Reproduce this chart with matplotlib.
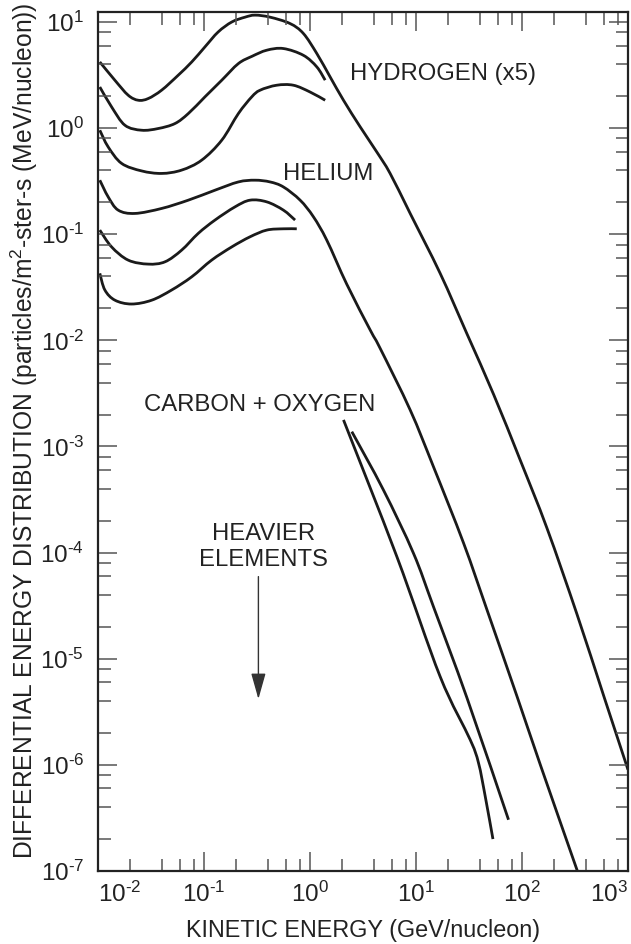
import numpy as np
import matplotlib
matplotlib.use("Agg")
import matplotlib.pyplot as plt
from matplotlib.path import Path
from matplotlib.patches import PathPatch

plt.rcParams['font.family'] = ['Liberation Sans', 'DejaVu Sans']
plt.rcParams['mathtext.fontset'] = 'custom'
plt.rcParams['mathtext.rm'] = 'Liberation Sans'
plt.rcParams['mathtext.it'] = 'Liberation Sans:italic'
plt.rcParams['mathtext.bf'] = 'Liberation Sans:bold'

# ---- data (kinetic energy GeV/nucleon, differential flux) ----
h1_E = [0.0104, 0.01445, 0.01928, 0.0240, 0.0298, 0.0399, 0.0571, 0.0766, 0.102, 0.136,
        0.183, 0.244, 0.303, 0.420, 0.649, 0.867, 1.16, 1.55, 2.07, 2.97, 4.28, 5.70,
        8.81, 16.9, 30.3, 54.0, 96.4, 172, 330, 590, 1000]
h1_F = [4.20, 2.82, 2.04, 1.83, 1.90, 2.28, 3.15, 4.20, 5.82, 8.05,
        10.0, 11.1, 11.6, 11.1, 9.66, 7.78, 5.04, 3.03, 1.83, 1.03, 0.593, 0.374,
        0.157, 0.0428, 0.01148, 3.09e-3, 7.41e-4, 1.70e-4, 2.63e-5, 4.47e-6, 9.0e-7]

h2_E = [0.0104, 0.01343, 0.01795, 0.0258, 0.0370, 0.0532, 0.0711, 0.102, 0.147, 0.211,
        0.284, 0.391, 0.561, 0.867, 1.16, 1.39]
h2_F = [2.44, 1.585, 1.064, 0.955, 0.991, 1.104, 1.371, 1.968, 2.825, 4.055,
        4.75, 5.42, 5.62, 4.85, 3.77, 2.83]

h3_E = [0.0104, 0.01247, 0.0167, 0.0258, 0.0399, 0.0615, 0.0951, 0.147, 0.211, 0.282,
        0.338, 0.485, 0.697, 1.0, 1.39]
h3_F = [0.955, 0.665, 0.465, 0.395, 0.374, 0.402, 0.499, 0.769, 1.371, 1.968,
        2.275, 2.535, 2.535, 2.19, 1.83]

he1_E = [0.0104, 0.01247, 0.0155, 0.0223, 0.0399, 0.0711, 0.127, 0.211, 0.303, 0.420,
         0.561, 0.807, 1.077, 1.44, 2.22, 3.70, 4.59, 8.81, 14.6, 28.1, 46.8, 89.8,
         149, 333]
he1_F = [0.323, 0.225, 0.1687, 0.157, 0.175, 0.2094, 0.260, 0.311, 0.323, 0.311,
         0.279, 0.2094, 0.146, 0.0879, 0.0339, 0.0125, 8.41e-3, 2.21e-3, 6.46e-4, 1.23e-4,
         2.88e-5, 4.41e-6, 1.0e-6, 1.0e-7]

he2_E = [0.0104, 0.01343, 0.01928, 0.0298, 0.0429, 0.0615, 0.0883, 0.127, 0.196, 0.272,
         0.391, 0.561, 0.723]
he2_F = [0.1094, 0.0760, 0.0570, 0.0523, 0.0550, 0.0708, 0.1019, 0.136, 0.181, 0.2094,
         0.2018, 0.1687, 0.136]

he3_E = [0.0104, 0.01161, 0.01445, 0.0207, 0.0321, 0.0495, 0.0766, 0.118, 0.183, 0.272,
         0.391, 0.561, 0.750]
he3_F = [0.0428, 0.0298, 0.0239, 0.0220, 0.0239, 0.0298, 0.0397, 0.0570, 0.0760, 0.0946,
         0.1094, 0.1125, 0.1125]

co1_E = [2.07, 6.60, 16.9, 32.5, 38.9, 45.0, 53.2]
co1_F = [1.78e-3, 9.16e-5, 6.79e-6, 1.72e-6, 1.04e-6, 5.04e-7, 2.00e-7]

co2_E = [2.48, 4.93, 9.46, 14.6, 30.3, 74.6]
co2_F = [1.38e-3, 3.89e-4, 9.87e-5, 3.10e-5, 4.26e-6, 3.04e-7]

x_ticks = [1e-2, 1e-1, 1e0, 1e1, 1e2, 1e3]
x_exps = ['-2', '-1', '0', '1', '2', '3']
y_ticks = [1e-7, 1e-6, 1e-5, 1e-4, 1e-3, 1e-2, 1e-1, 1e0, 1e1]
y_exps = ['-7', '-6', '-5', '-4', '-3', '-2', '-1', '0', '1']


def tick_label(e):
    if e.startswith('-'):
        return r'$\mathregular{10^{\text{-}' + e[1:] + r'}}$'
    return r'$\mathregular{10^{' + e + r'}}$'


def smooth_path(E, F):
    """Smooth (Catmull-Rom) path through the read points, in log-log space."""
    P = np.column_stack([np.log10(E), np.log10(F)])
    n = len(P)
    verts = [P[0]]
    codes = [Path.MOVETO]
    for i in range(n - 1):
        p0 = P[i - 1] if i > 0 else P[i]
        p1 = P[i]
        p2 = P[i + 1]
        p3 = P[i + 2] if i + 2 < n else P[i + 1]
        c1 = p1 + (p2 - p0) / 6.0
        c2 = p2 - (p3 - p1) / 6.0
        verts += [c1, c2, p2]
        codes += [Path.CURVE4] * 3
    return Path(10.0 ** np.array(verts), codes)


# ---- figure ----
fig = plt.figure(figsize=(6.31, 9.44), dpi=100)
ax = fig.add_axes([98/631, 1 - 871/944, 530/631, 859/944])
ax.set_xscale('log')
ax.set_yscale('log')
ax.set_xlim(1e-2, 1e3)
ax.set_ylim(1e-7, 10**1.094)

lw = 2.0
for E, F in [(h1_E, h1_F), (h2_E, h2_F), (h3_E, h3_F), (he1_E, he1_F), (he2_E, he2_F),
             (he3_E, he3_F), (co1_E, co1_F), (co2_E, co2_F)]:
    ax.add_patch(PathPatch(smooth_path(E, F), fill=False, edgecolor='#1a1a1a', lw=lw,
                           joinstyle='round', capstyle='butt', transform=ax.transData))

# ticks
ax.set_xticks(x_ticks)
ax.set_yticks(y_ticks)
ax.set_xticklabels([tick_label(e) for e in x_exps])
ax.set_yticklabels([tick_label(e) for e in y_exps])
minor_mult = [2, 4, 6, 8]
ax.set_xticks([m * 10.0**k for k in range(-2, 3) for m in minor_mult], minor=True)
ax.set_yticks([m * 10.0**k for k in range(-7, 1) for m in minor_mult], minor=True)
ax.xaxis.set_minor_formatter(plt.NullFormatter())
ax.yaxis.set_minor_formatter(plt.NullFormatter())
ax.tick_params(which='both', direction='in', top=True, right=True, color='#555555')
ax.tick_params(which='major', length=14, width=1.1, labelsize=17.5, pad=8,
               labelcolor='#222222')
ax.tick_params(which='minor', length=9, width=1.1)
ax.tick_params(axis='y', which='major', pad=10)
lbls = ax.get_xticklabels()
lbls[0].set_horizontalalignment('left')
lbls[-1].set_horizontalalignment('right')
for sp in ax.spines.values():
    sp.set_linewidth(1.6)
    sp.set_color('#222222')

ax.set_xlabel('KINETIC ENERGY (GeV/nucleon)', fontsize=16.8, color='#222222')
ax.set_ylabel('DIFFERENTIAL ENERGY DISTRIBUTION (particles/m$^{2}$-ster-s (MeV/nucleon))',
              fontsize=17.7, color='#222222')
ax.xaxis.label.set_verticalalignment('center')
ax.xaxis.set_label_coords(0.5, (871 - 930) / 859)
ax.yaxis.label.set_verticalalignment('center')
ax.yaxis.set_label_coords((24 - 98) / 530, (871 - 431) / 859)

# annotations
txt_kw = dict(fontsize=17.2, color='#222222')
ax.text(2.39, 3.22, 'HYDROGEN (x5)', ha='left', va='center', **txt_kw)
ax.text(0.561, 0.368, 'HELIUM', ha='left', va='center', **txt_kw)
ax.text(4.12, 10**-2.609, 'CARBON + OXYGEN', ha='right', va='center', **txt_kw)
ax.text(0.363, 10**-3.946, 'HEAVIER\nELEMENTS', ha='center', va='center',
        linespacing=1.2, **txt_kw)
ax.annotate('', xy=(0.326, 10**-5.38), xytext=(0.326, 10**-4.226),
            arrowprops=dict(arrowstyle='-|>,head_length=1.6,head_width=0.45',
                            color='#333333', lw=1.0, shrinkA=0, shrinkB=0))

fig.savefig('out.png', dpi=100)
